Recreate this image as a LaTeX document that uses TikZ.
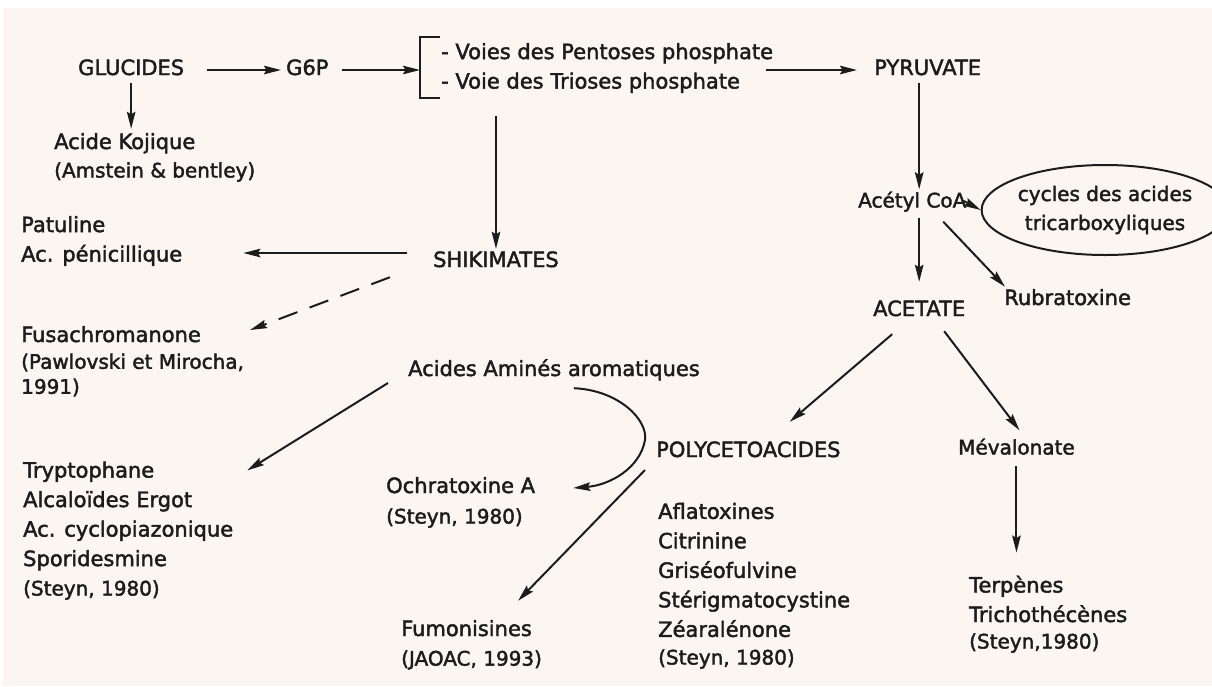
\documentclass[tikz,border=0pt]{standalone}
\usepackage{fontspec}
\setmainfont{DejaVu Sans}[FakeBold=2]
\usetikzlibrary{calc,arrows.meta,shapes.geometric}
\definecolor{paper}{RGB}{252,246,243}
\definecolor{ink}{RGB}{28,28,28}
\tikzset{
	lbl/.style={inner sep=1pt, text=ink, anchor=west, font=\fontsize{21}{29}\selectfont, text height=15pt, text depth=5pt},
	blk/.style={inner sep=1pt, text=ink, anchor=west, align=left, font=\fontsize{21}{29.5}\selectfont},
	cit/.style={inner sep=1pt, text=ink, anchor=west, align=left, font=\fontsize{20}{25}\selectfont},
	sml/.style={inner sep=1pt, text=ink, anchor=west, font=\fontsize{20}{27}\selectfont, text height=14pt, text depth=5pt},
	arr/.style={draw=ink, line width=2pt, -{Stealth[length=17pt,width=8.5pt,inset=2.5pt]}},
}

\begin{document}
\begin{tikzpicture}[x=1pt, y=-1pt]
		%%%%% START %%%%%
		
		\fill[white] (0, 0) rectangle (1212, 686);
		\fill[paper] (3, 8) rectangle (1212, 686);
		\useasboundingbox (0, 0) rectangle (1212, 686);
		
		\node[lbl] (glu) at (77, 70) {GLUCIDES};
		\node[lbl] (gsp) at (285, 70) {G6P};
		\node[blk] (voies) at (440, 68) {- Voies des Pentoses phosphate\\- Voie des Trioses phosphate};
		\node[lbl] (pyr) at (873, 70) {PYRUVATE};
		\coordinate (brk) at (420, 70);
		\draw[draw=ink, line width=2pt] (440, 37) -- (420, 37) -- (420, 98) -- (440, 98);
		
		\node[lbl] (koj) at (53, 144) {Acide Kojique};
		\node[cit] (kojcit) at (53, 172) {(Amstein \& bentley)};
		
		\node[lbl] (shik) at (432, 262) {SHIKIMATES};
		\node[blk] (patu) at (20, 241) {Patuline\\Ac. pénicillique};
		\node[lbl] (fusa) at (20, 337) {Fusachromanone};
		\node[cit] (fusacit) at (20, 375) {(Pawlovski et Mirocha,\\1991)};
		
		\node[lbl] (aaa) at (407, 371) {Acides Aminés aromatiques};
		\node[blk] (tryp) at (22, 516) {Tryptophane\\Alcaloïdes Ergot\\Ac. cyclopiazonique\\Sporidesmine};
		\node[cit] (trypcit) at (22, 590) {(Steyn, 1980)};
		\node[lbl] (ochra) at (385, 488) {Ochratoxine A};
		\node[cit] (ochracit) at (385, 518) {(Steyn, 1980)};
		\node[lbl] (fumo) at (400, 631) {Fumonisines};
		\node[cit] (fumocit) at (400, 660) {(JAOAC, 1993)};
		
		\node[lbl] (poly) at (655, 452) {POLYCETOACIDES};
		\node[blk] (afla) at (657, 570) {Aflatoxines\\Citrinine\\Griséofulvine\\Stérigmatocystine\\Zéaralénone};
		\node[cit] (aflacit) at (657, 659) {(Steyn, 1980)};
		
		\node[sml] (acoa) at (857, 203) {Acétyl CoA};
		\node[draw=ink, line width=2pt, ellipse, minimum width=205pt, minimum height=90pt, inner sep=0pt, text=ink, align=center, font=\fontsize{20}{29}\selectfont] (cycle) at (1105, 210) {cycles des acides\\tricarboxyliques};
		\node[lbl] (acet) at (872, 311) {ACETATE};
		\node[lbl] (rubra) at (1003, 300) {Rubratoxine};
		\node[sml] (meva) at (957, 450) {Mévalonate};
		\node[blk] (terp) at (968, 599) {Terpènes\\Trichothécènes};
		\node[cit] (terpcit) at (968, 643) {(Steyn,1980)};
		
		\draw[arr, shorten <=22pt, shorten >=4pt] (glu.east) -- (gsp.west);
		\draw[arr, shorten <=12pt] (gsp.east) -- (brk);
		\draw[arr, shorten <=-8pt, shorten >=16pt] (voies.east |- brk) -- (pyr.west);
		\draw[arr, shorten <=2pt, shorten >=4pt] (glu.south) -- (glu.south |- koj.north);
		\draw[arr, shorten <=22pt, shorten >=2pt] (shik.north |- voies.south) -- (shik.north);
		
		\draw[arr] ($(shik.west)+(-25,-9)$) -- ($(patu.east |- shik.west)+(60,-9)$);
		\draw[arr, dash pattern=on 20pt off 13pt] ($(shik.south west)+(-42,4)$) -- ($(fusa.east)+(48,-7)$);
		\draw[arr] ($(aaa.west)+(-19,12)$) -- ($(tryp.north east)+(13,10)$);
		\draw[arr] ($(aaa.south)+(20,6)$) .. controls +(45,2) and +(3,-20) .. ($(poly.west)+(-10,-12)$) .. controls +(-5,28) and +(37,-3) .. ($(ochra.east)+(37,0)$);
		\draw[arr] ($(poly.west)+(-10,18)$) -- ($(fumo.north east)+(-15,-19)$);
		
		\draw[arr, shorten <=2pt, shorten >=3pt] (pyr.south -| acet.north) -- (acoa.north -| acet.north);
		\draw[arr, shorten <=-5pt] (acoa.east) -- (cycle.west);
		\draw[arr, shorten <=4pt, shorten >=18pt] (acoa.south -| acet.north) -- (acet.north);
		\draw[arr] ($(acoa.south)+(31,8)$) -- ($(rubra.north west)+(2,-2)$);
		
		\draw[arr] ($(acet.south)+(-27,12)$) -- ($(poly.north east)+(-52,-19)$);
		\draw[arr] ($(acet.south)+(25,9)$) -- ($(meva.north)+(3,-9)$);
		\draw[arr, shorten <=5pt, shorten >=22pt] (meva.south) -- (meva.south |- terp.north);
		
		%%%%% END %%%%%
\end{tikzpicture}
\end{document}
